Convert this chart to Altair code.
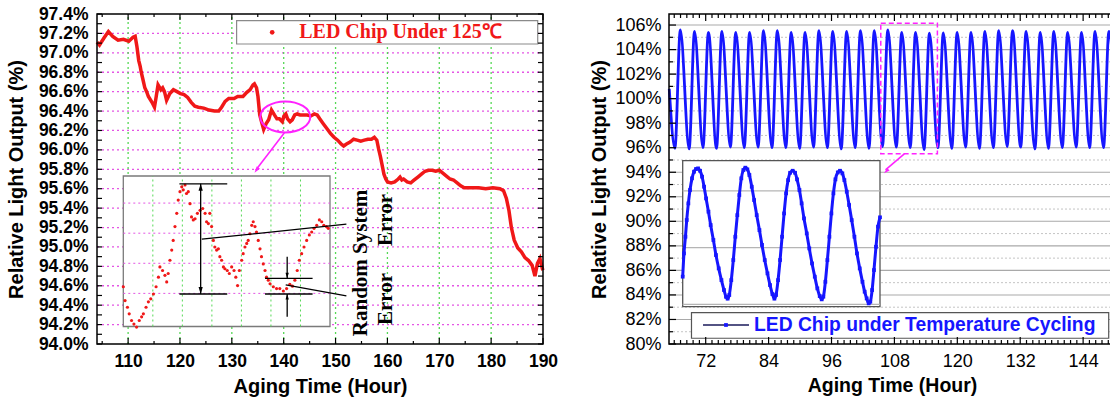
import altair as alt
import pandas as pd

SANS = "Liberation Sans"
SERIF = "Liberation Serif"
RED = "#f01818"
BLUE = "#1616ff"
PINK = "#e455e4"
GREEN = "#55d855"
MAGENTA = "#ff22ff"

# ---------------- left panel: LED chip under 125 C ----------------
left_hours = [
    104.0, 104.48, 105.31, 106.2, 107.03, 108.06, 109.09, 110.13, 110.95, 111.36,
    111.71, 112.05, 112.33, 112.53, 112.88, 113.22, 113.57, 113.91, 114.6, 115.08,
    115.42, 115.77, 116.32, 116.66, 117.01, 117.42, 118.04, 118.73, 119.42, 120.1,
    120.79, 121.48, 122.17, 122.86, 123.55, 124.58, 125.61, 126.64, 127.47, 128.02,
    128.71, 129.4, 130.43, 131.12, 132.15, 132.84, 133.53, 134.08, 134.35, 134.76,
    135.04, 135.38, 135.73, 136.14, 136.62, 137.1, 137.65, 138.21, 138.69, 139.17,
    139.72, 140.06, 140.41, 140.75, 141.23, 141.65, 142.13, 142.61, 143.16, 143.85,
    144.54, 145.23, 145.91, 146.46, 146.95, 147.63, 148.32, 149.01, 149.7, 150.39,
    151.08, 151.56, 152.11, 152.8, 153.48, 154.17, 154.86, 155.55, 156.24, 156.93,
    157.48, 157.96, 158.3, 158.65, 158.99, 159.33, 159.68, 160.02, 160.71, 161.4,
    162.09, 162.43, 162.78, 163.12, 163.81, 164.5, 165.18, 165.87, 166.56, 167.25,
    167.94, 168.63, 169.31, 170.0, 170.69, 171.38, 172.07, 172.75, 173.44, 174.13,
    174.82, 175.51, 176.2, 177.57, 178.95, 180.33, 181.7, 182.39, 182.94, 183.42,
    183.9, 184.45, 185.14, 185.83, 186.52, 187.21, 187.9, 188.45, 188.93, 189.41,
    189.96]
left_values = [
    97.11, 97.08, 97.15, 97.22, 97.17, 97.13, 97.14, 97.12, 97.16, 97.17,
    97.06, 96.92, 96.86, 96.80, 96.72, 96.64, 96.60, 96.55, 96.49, 96.44,
    96.55, 96.67, 96.62, 96.64, 96.60, 96.51, 96.58, 96.62, 96.60, 96.58,
    96.57, 96.54, 96.49, 96.45, 96.44, 96.43, 96.41, 96.40, 96.40, 96.44,
    96.50, 96.53, 96.53, 96.55, 96.55, 96.59, 96.62, 96.67, 96.68, 96.64,
    96.55, 96.36, 96.29, 96.21, 96.27, 96.31, 96.41, 96.36, 96.32, 96.32,
    96.29, 96.35, 96.37, 96.32, 96.29, 96.31, 96.36, 96.37, 96.36, 96.36,
    96.36, 96.35, 96.37, 96.36, 96.32, 96.27, 96.22, 96.17, 96.13, 96.10,
    96.06, 96.04, 96.06, 96.08, 96.11, 96.10, 96.09, 96.10, 96.11, 96.11,
    96.13, 96.10, 96.01, 95.93, 95.84, 95.75, 95.70, 95.67, 95.66, 95.67,
    95.70, 95.72, 95.69, 95.70, 95.67, 95.66, 95.69, 95.72, 95.75, 95.78,
    95.79, 95.79, 95.78, 95.79, 95.76, 95.73, 95.70, 95.69, 95.66, 95.63,
    95.61, 95.61, 95.61, 95.61, 95.60, 95.61, 95.60, 95.58, 95.50, 95.38,
    95.20, 95.07, 94.99, 94.95, 94.89, 94.86, 94.81, 94.70, 94.83, 94.88,
    94.76]

# zoomed inset of the left panel (circled part of the curve)
inset_l_hours = [
    136.00, 136.06, 136.14, 136.20, 136.28, 136.36, 136.45, 136.54, 136.62, 136.68,
    136.77, 136.85, 136.93, 137.02, 137.11, 137.19, 137.24, 137.33, 137.41, 137.47,
    137.52, 137.58, 137.64, 137.69, 137.75, 137.81, 137.86, 137.92, 137.98, 138.03,
    138.09, 138.14, 138.20, 138.26, 138.31, 138.37, 138.43, 138.51, 138.60, 138.69,
    138.77, 138.82, 138.88, 138.93, 138.99, 139.05, 139.10, 139.16, 139.22, 139.27,
    139.33, 139.39, 139.44, 139.52, 139.59, 139.67, 139.75, 139.81, 139.87, 139.93,
    140.01, 140.06, 140.12, 140.18, 140.23, 140.29, 140.35, 140.40, 140.46, 140.51,
    140.57, 140.63, 140.68, 140.74, 140.80, 140.85, 140.91, 140.97, 141.08, 141.19,
    141.30, 141.42, 141.53, 141.64, 141.73, 141.81, 141.89, 141.96, 142.04, 142.12,
    142.21, 142.30, 142.38, 142.46, 142.55, 142.64, 142.72, 142.79, 142.88, 142.94]
inset_l_values = [
    96.241, 96.218, 96.207, 96.196, 96.185, 96.179, 96.174, 96.185, 96.191, 96.196,
    96.207, 96.216, 96.221, 96.229, 96.241, 96.257, 96.274, 96.268, 96.260, 96.249,
    96.263, 96.285, 96.302, 96.318, 96.341, 96.363, 96.385, 96.399, 96.407, 96.402,
    96.410, 96.396, 96.399, 96.379, 96.357, 96.352, 96.354, 96.363, 96.368, 96.371,
    96.363, 96.349, 96.346, 96.363, 96.341, 96.318, 96.307, 96.302, 96.304, 96.291,
    96.285, 96.274, 96.271, 96.268, 96.263, 96.274, 96.268, 96.257, 96.243, 96.268,
    96.285, 96.296, 96.307, 96.313, 96.318, 96.329, 96.343, 96.349, 96.341, 96.332,
    96.318, 96.304, 96.291, 96.279, 96.268, 96.257, 96.252, 96.246, 96.241, 96.238,
    96.238, 96.234, 96.238, 96.245, 96.242, 96.252, 96.268, 96.285, 96.296, 96.307,
    96.318, 96.327, 96.332, 96.338, 96.343, 96.352, 96.349, 96.343, 96.341, 96.338]

# ---------------- right panel: temperature cycling ----------------
peak_hours = [67.16, 69.87, 72.52, 75.09, 77.74, 80.38, 83.03, 85.67, 88.31, 90.96,
              93.60, 96.24, 98.89, 101.53, 104.17, 106.75, 109.40, 112.04, 114.68, 117.33,
              119.97, 122.61, 125.26, 127.90, 130.54, 133.12, 135.83, 138.41, 141.05, 143.70,
              146.27, 148.92]
peak_values = [105.60, 105.49, 105.41, 105.49, 105.41, 105.41, 105.55, 105.55, 105.41, 105.41,
               105.55, 105.49, 105.49, 105.55, 105.55, 105.60, 105.41, 105.41, 105.33, 105.36,
               105.41, 105.41, 105.49, 105.55, 105.55, 105.49, 105.41, 105.49, 105.41, 105.41,
               105.49, 105.49]
trough_hours = [66.13, 68.84, 71.48, 74.06, 76.71, 79.35, 81.99, 84.64, 87.28, 89.92,
                92.57, 95.21, 97.85, 100.50, 103.14, 105.72, 108.36, 111.01, 113.65, 116.29,
                118.94, 121.58, 124.22, 126.87, 129.51, 132.09, 134.80, 137.38, 140.02, 142.67,
                145.24, 147.89]
trough_values = [95.95, 95.90, 96.00, 95.95, 96.05, 96.00, 96.05, 96.00, 96.00, 95.95,
                 96.05, 96.00, 95.90, 96.00, 95.95, 96.10, 96.05, 96.00, 95.85, 96.00,
                 95.95, 96.05, 95.95, 96.00, 96.10, 96.05, 95.90, 95.95, 96.00, 96.05,
                 96.00, 96.00]
edge_hours = [65.05, 150.2]
edge_values = [100.8, 97.5]

inset_r_hours = [
    105.40, 105.47, 105.55, 105.62, 105.71, 105.80, 105.91, 106.02, 106.13, 106.24,
    106.35, 106.46, 106.57, 106.68, 106.81, 106.93, 107.08, 107.22, 107.37, 107.52,
    107.66, 107.77, 107.86, 107.95, 108.06, 108.17, 108.28, 108.39, 108.50, 108.61,
    108.72, 108.83, 108.94, 109.05, 109.18, 109.31, 109.45, 109.60, 109.74, 109.89,
    110.04, 110.18, 110.31, 110.42, 110.51, 110.62, 110.73, 110.84, 110.95, 111.06,
    111.17, 111.28, 111.42, 111.55, 111.66, 111.79, 111.91, 112.04, 112.19, 112.33,
    112.48, 112.63, 112.77, 112.90, 113.01, 113.10, 113.21, 113.32, 113.43, 113.54,
    113.65, 113.76, 113.89, 114.01, 114.14, 114.25, 114.38, 114.51, 114.65, 114.80,
    114.94, 115.09, 115.24, 115.36, 115.47, 115.58, 115.67, 115.77, 115.87, 115.98,
    116.09, 116.20]
inset_r_values = [
    85.34, 87.31, 88.72, 90.13, 91.54, 92.67, 93.66, 94.22, 94.45, 94.50,
    94.30, 93.80, 92.95, 91.96, 90.84, 89.71, 88.44, 87.17, 86.04, 85.05,
    84.21, 83.64, 83.48, 83.79, 85.05, 86.75, 88.72, 90.55, 92.25, 93.66,
    94.36, 94.56, 94.42, 93.94, 92.95, 91.82, 90.55, 89.28, 88.02, 86.75,
    85.62, 84.63, 83.87, 83.48, 83.79, 85.05, 86.75, 88.72, 90.69, 92.39,
    93.51, 94.13, 94.30, 94.13, 93.57, 92.67, 91.54, 90.27, 89.00, 87.73,
    86.46, 85.34, 84.35, 83.70, 83.42, 83.65, 84.91, 86.75, 88.72, 90.69,
    92.39, 93.57, 94.16, 94.30, 94.08, 93.51, 92.53, 91.40, 90.13, 88.72,
    87.31, 86.04, 84.91, 84.07, 83.50, 83.08, 83.22, 84.21, 85.90, 87.87,
    89.57, 90.36]

# ---------------- ticks / labels ----------------
left_x_ticks = [110, 120, 130, 140, 150, 160, 170, 180, 190]
left_y_ticks = [94.0, 94.2, 94.4, 94.6, 94.8, 95.0, 95.2, 95.4, 95.6, 95.8,
                96.0, 96.2, 96.4, 96.6, 96.8, 97.0, 97.2, 97.4]
left_minor_x = [105, 115, 125, 135, 145, 155, 165, 175, 185]
left_minor_y = [94.1, 94.3, 94.5, 94.7, 94.9, 95.1, 95.3, 95.5, 95.7, 95.9,
                96.1, 96.3, 96.5, 96.7, 96.9, 97.1, 97.3]
right_x_ticks = [72, 84, 96, 108, 120, 132, 144]
right_y_ticks = [80, 82, 84, 86, 88, 90, 92, 94, 96, 98, 100, 102, 104, 106]
right_odd_y = [81, 83, 85, 87, 89, 91, 93, 95, 97, 99, 101, 103, 105]
right_minor_x = [round(66 + 1.2 * i, 1) for i in range(71)]
inset_l_grid_x = [137, 138, 139, 140, 141, 142]
inset_l_grid_y = [96.23, 96.28, 96.33, 96.38]
inset_r_grid_y = [92.6, 87.8, 83.0]

legend_left = "LED Chip Under 125\u2103"
legend_right = "LED Chip under Temperature Cycling"


def sc(domain, rng):
    return alt.Scale(domain=domain, range=rng, nice=False, zero=False)


XL, YL = sc([104, 190], [0, 446]), sc([94.0, 97.4], [330, 0])
XR, YR = sc([65, 150.5], [572, 1020.2]), sc([80, 106.9], [330, 0])
XLI, YLI = sc([136, 143], [26.3, 233]), sc([96.175, 96.425], [312.5, 162])
XRI, YRI = sc([105.4, 116.2], [585.7, 783]), sc([82.8, 95.15], [292.7, 146.7])


def mkaxis(values, orient, expr, bold, size, title, tsize, tx, ty, pad, offset=0):
    return alt.Axis(values=values, orient=orient, labelExpr=expr, labelFont=SANS,
                    labelFontSize=size, labelFontWeight="bold" if bold else "normal",
                    labelColor="black", labelPadding=pad, labelFlush=False,
                    labelOverlap=False, domain=False, ticks=False, grid=False,
                    title=title, titleFont=SANS, titleFontSize=tsize,
                    titleFontWeight="bold", titleColor="black", titleX=tx, titleY=ty,
                    offset=offset)


ax_lx = mkaxis(left_x_ticks, "bottom", "format(datum.value, 'd')", True, 17.5,
               "Aging Time (Hour)", 20, 223, 32, 8)
ax_ly = mkaxis(left_y_ticks, "left", "format(datum.value, '.1f') + '%'", True, 17.5,
               "Relative Light Output (%)", 20, -71, 165, 9)
ax_rx = mkaxis(right_x_ticks, "bottom", "format(datum.value, 'd')", False, 18,
               "Aging Time (Hour)", 19.5, 795, 32, 8)
ax_ry = mkaxis(right_y_ticks, "left", "format(datum.value, 'd') + '%'", False, 18,
               "Relative Light Output (%)", 20, -60, 165, 8, offset=-572)

# every layer of a panel carries the same axis definition (insets carry none)
AXES = {id(XL): ax_lx, id(YL): ax_ly, id(XR): ax_rx, id(YR): ax_ry}


def ex(f, s):
    return alt.X(f, type="quantitative", scale=s, axis=AXES.get(id(s)))


def ey(f, s):
    return alt.Y(f, type="quantitative", scale=s, axis=AXES.get(id(s)))


def hrules(vals, a, b, xs, ys, **mk):
    d = pd.DataFrame({"v": vals, "a": [a] * len(vals), "b": [b] * len(vals)})
    return alt.Chart(d).mark_rule(**mk).encode(x=ex("a", xs), x2="b", y=ey("v", ys))


def vrules(vals, a, b, xs, ys, **mk):
    d = pd.DataFrame({"h": vals, "a": [a] * len(vals), "b": [b] * len(vals)})
    return alt.Chart(d).mark_rule(**mk).encode(x=ex("h", xs), y=ey("a", ys), y2="b")


def yticks(vals, edge, xs, ys, length):
    d = pd.DataFrame({"v": vals, "e": [edge] * len(vals)})
    return alt.Chart(d).mark_rule(color="black", strokeWidth=1.2, x2Offset=length).encode(
        x=ex("e", xs), x2="e", y=ey("v", ys))


def xticks(vals, edge, xs, ys, length):
    d = pd.DataFrame({"h": vals, "e": [edge] * len(vals)})
    return alt.Chart(d).mark_rule(color="black", strokeWidth=1.2, y2Offset=length).encode(
        x=ex("h", xs), y=ey("e", ys), y2="e")


def box(x0, x1, y0, y1, xs, ys, **mk):
    d = pd.DataFrame({"x0": [x0], "x1": [x1], "y0": [y0], "y1": [y1]})
    return alt.Chart(d).mark_rect(**mk).encode(x=ex("x0", xs), x2="x1", y=ey("y0", ys), y2="y1")


def seg(pts, xs, ys, **mk):
    d = pd.DataFrame({"x0": [p[0] for p in pts], "y0": [p[1] for p in pts],
                      "x1": [p[2] for p in pts], "y1": [p[3] for p in pts]})
    return alt.Chart(d).mark_rule(**mk).encode(x=ex("x0", xs), y=ey("y0", ys), x2="x1", y2="y1")


HEAD = "M0,0L-0.3,1L0.3,1Z"


def head(hx, vy, angle, size, color, xs, ys):
    d = pd.DataFrame({"h": [hx], "v": [vy]})
    return alt.Chart(d).mark_point(shape=HEAD, size=size, angle=angle, filled=True,
                                   color=color, opacity=1).encode(x=ex("h", xs), y=ey("v", ys))


def texts(rows, xs, ys, **mk):
    d = pd.DataFrame({"h": [r[0] for r in rows], "v": [r[1] for r in rows], "t": [r[2] for r in rows]})
    return alt.Chart(d).mark_text(**mk).encode(x=ex("h", xs), y=ey("v", ys), text="t:N")


# ================= left main panel =================
left_df = pd.DataFrame({"h": left_hours, "v": left_values})
left_panel = alt.layer(
    hrules(left_y_ticks[1:-1], 104, 190, XL, YL, color=PINK, strokeWidth=1.3, strokeDash=[2, 3]),
    vrules(left_x_ticks[:-1], 94.0, 97.4, XL, YL, color=GREEN, strokeWidth=1.3, strokeDash=[2, 3]),
    alt.Chart(left_df).mark_line(color=RED, strokeWidth=3.5).encode(x=ex("h", XL), y=ey("v", YL)),
    box(130.92, 188.98, 97.091, 97.331, XL, YL, fill="white", stroke="#8a8a8a", strokeWidth=1.2),
    alt.Chart(pd.DataFrame({"h": [137.78], "v": [97.211]})).mark_point(
        filled=True, color=RED, size=22, opacity=1).encode(x=ex("h", XL), y=ey("v", YL)),
    texts([(142.99, 97.211, legend_left)], XL, YL, font=SERIF, fontSize=20, fontWeight="bold",
          color=RED, align="left", baseline="middle"),
    alt.Chart(pd.DataFrame({"h": [140.3], "v": [96.34]})).mark_point(
        shape="M-1,0A1,0.62,0,1,0,1,0A1,0.62,0,1,0,-1,0Z", size=2500, filled=False,
        color=MAGENTA, strokeWidth=2, opacity=1).encode(x=ex("h", XL), y=ey("v", YL)),
    seg([(140.1, 96.174, 134.6, 95.79)], XL, YL, color=MAGENTA, strokeWidth=1.6),
    head(134.37, 95.765, 216.8, 169, MAGENTA, XL, YL),
    texts([(154.94, 94.835, "Random System"), (159.76, 95.278, "Error"), (159.76, 94.464, "Error")],
          XL, YL, font=SERIF, fontSize=21, fontWeight="bold", color="black", angle=270,
          align="center", baseline="middle"),
    box(104, 190, 94.0, 97.4, XL, YL, fillOpacity=0, stroke="black", strokeWidth=1.5),
    yticks(left_y_ticks + left_minor_y, 104, XL, YL, 5),
    yticks(left_y_ticks + left_minor_y, 190, XL, YL, -5),
    xticks(left_x_ticks, 97.4, XL, YL, 6),
    xticks(left_x_ticks, 94.0, XL, YL, -6),
    xticks(left_minor_x, 97.4, XL, YL, 3),
    xticks(left_minor_x, 94.0, XL, YL, -3),
)

# ================= right main panel =================
cyc = pd.DataFrame({"h": peak_hours + trough_hours + edge_hours,
                    "v": peak_values + trough_values + edge_values}).sort_values("h")
right_panel = alt.layer(
    hrules(right_y_ticks[1:], 65, 150.5, XR, YR, color="#a9a9a9", strokeWidth=1.1),
    hrules(right_odd_y, 65, 150.5, XR, YR, color="#c4c4c4", strokeWidth=1, strokeDash=[2, 2]),
    alt.Chart(cyc).mark_line(color=BLUE, strokeWidth=2.8, interpolate="monotone").encode(
        x=ex("h", XR), y=ey("v", YR)),
    box(105.4, 116.2, 95.5, 106.15, XR, YR, fillOpacity=0, stroke=MAGENTA, strokeWidth=1.5,
        strokeDash=[5, 3]),
    seg([(109.89, 95.49, 106.3, 94.2)], XR, YR, color=MAGENTA, strokeWidth=1.6),
    head(106.02, 93.91, 226.5, 144, MAGENTA, XR, YR),
    box(69.29, 148.88, 80.47, 82.55, XR, YR, fill="white", stroke="#555555", strokeWidth=1.2),
    seg([(71.49, 81.55, 80.26, 81.55)], XR, YR, color="#1a1a5a", strokeWidth=1.5),
    alt.Chart(pd.DataFrame({"h": [75.87], "v": [81.55]})).mark_point(
        filled=True, color=BLUE, size=14, shape="square", opacity=1).encode(x=ex("h", XR), y=ey("v", YR)),
    texts([(81.22, 81.55, legend_right)], XR, YR, font=SANS, fontSize=19.3, fontWeight="bold",
          color=BLUE, align="left", baseline="middle"),
    box(65, 150.5, 80, 106.9, XR, YR, fillOpacity=0, stroke="black", strokeWidth=1.5),
    yticks(right_y_ticks, 65, XR, YR, 7),
    yticks(right_odd_y, 65, XR, YR, 4),
    xticks(right_x_ticks, 106.9, XR, YR, 7),
    xticks(right_x_ticks, 80, XR, YR, -7),
    xticks([t for t in right_minor_x if t not in right_x_ticks], 106.9, XR, YR, 4),
    xticks([t for t in right_minor_x if t not in right_x_ticks], 80, XR, YR, -4),
)

# ================= left inset =================
inl = pd.DataFrame({"h": inset_l_hours, "v": inset_l_values})
left_inset = alt.layer(
    box(136, 143, 96.175, 96.425, XLI, YLI, fill="white", stroke="#7a7a7a", strokeWidth=1.3),
    vrules(inset_l_grid_x, 96.175, 96.425, XLI, YLI, color=GREEN, strokeWidth=1, strokeDash=[2, 3]),
    hrules(inset_l_grid_y, 136, 143, XLI, YLI, color=PINK, strokeWidth=1, strokeDash=[2, 3]),
    alt.Chart(inl).mark_point(filled=True, color=RED, size=10, opacity=1).encode(
        x=ex("h", XLI), y=ey("v", YLI)),
    seg([(138.62, 96.229, 138.62, 96.412),
         (137.90, 96.412, 139.52, 96.412), (137.90, 96.229, 139.52, 96.229),
         (141.55, 96.291, 141.55, 96.255), (141.55, 96.191, 141.55, 96.229),
         (140.80, 96.255, 142.41, 96.255), (140.80, 96.229, 142.41, 96.229),
         (138.66, 96.320, 143.555, 96.345), (141.50, 96.244, 143.555, 96.226)],
        XLI, YLI, color="black", strokeWidth=1.3),
    head(138.62, 96.412, 0, 196, "black", XLI, YLI),
    head(138.62, 96.229, 180, 196, "black", XLI, YLI),
    head(141.55, 96.255, 180, 121, "black", XLI, YLI),
    head(141.55, 96.229, 0, 121, "black", XLI, YLI),
)

# ================= right inset =================
inr = pd.DataFrame({"h": inset_r_hours, "v": inset_r_values})
right_inset = alt.layer(
    box(105.4, 116.2, 82.8, 95.15, XRI, YRI, fill="white", stroke="#555555", strokeWidth=1.3),
    hrules(inset_r_grid_y, 105.4, 116.2, XRI, YRI, color="#b5b5b5", strokeWidth=1.1),
    alt.Chart(inr).mark_line(color=BLUE, strokeWidth=3, interpolate="monotone").encode(
        x=ex("h", XRI), y=ey("v", YRI)),
    alt.Chart(inr).mark_point(filled=True, color=BLUE, size=14, shape="square", opacity=1).encode(
        x=ex("h", XRI), y=ey("v", YRI)),
)

chart = alt.layer(left_panel, right_panel, left_inset, right_inset).resolve_scale(
    x="independent", y="independent"
).properties(
    width=1013, height=330,
    autosize=alt.AutoSizeParams(type="none"),
    padding={"left": 97, "top": 14, "right": 0, "bottom": 58},
    background="white",
).configure_view(stroke=None)

chart.save("out.html", embed_options={"renderer": "svg", "actions": False})
